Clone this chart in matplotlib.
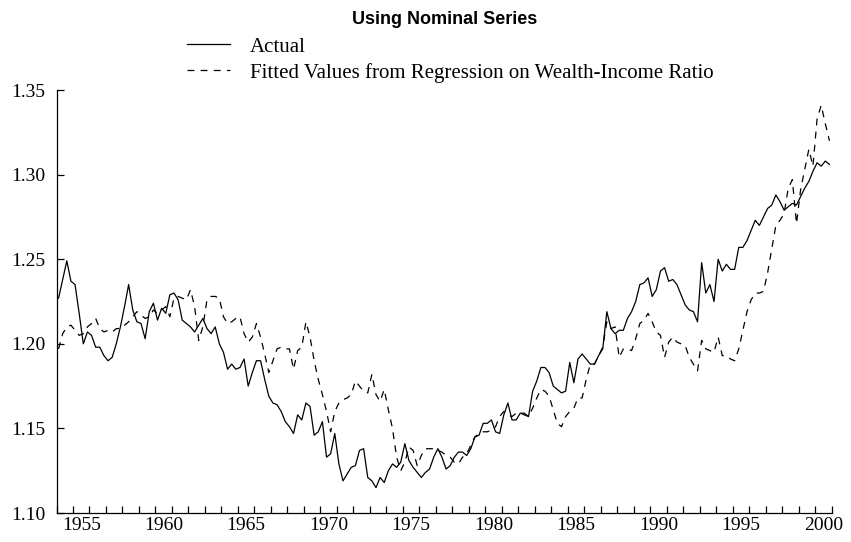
import numpy as np
import matplotlib
matplotlib.use("Agg")
import matplotlib.pyplot as plt
from matplotlib.lines import Line2D

# quarterly observations, 1954Q1 .. 2000Q4
start_year = 1954
n_quarters = 188
quarters = start_year + 0.125 + np.arange(n_quarters) / 4.0

actual = [
    1.227, 1.238, 1.249, 1.237, 1.235, 1.218, 1.200, 1.207,
    1.205, 1.198, 1.198, 1.193, 1.190, 1.192, 1.200, 1.210,
    1.222, 1.235, 1.220, 1.213, 1.212, 1.203, 1.219, 1.224,
    1.214, 1.221, 1.218, 1.229, 1.230, 1.226, 1.214, 1.212,
    1.210, 1.207, 1.211, 1.215, 1.209, 1.206, 1.210, 1.200,
    1.195, 1.185, 1.188, 1.185, 1.186, 1.191, 1.175, 1.183,
    1.190, 1.190, 1.179, 1.169, 1.165, 1.164, 1.160, 1.154,
    1.151, 1.147, 1.158, 1.155, 1.165, 1.163, 1.146, 1.148,
    1.154, 1.133, 1.135, 1.147, 1.129, 1.119, 1.123, 1.127,
    1.128, 1.137, 1.138, 1.121, 1.119, 1.115, 1.121, 1.118,
    1.125, 1.129, 1.127, 1.130, 1.141, 1.131, 1.127, 1.124,
    1.121, 1.124, 1.126, 1.133, 1.138, 1.133, 1.126, 1.128,
    1.133, 1.136, 1.136, 1.134, 1.138, 1.145, 1.146, 1.153,
    1.153, 1.155, 1.148, 1.147, 1.158, 1.165, 1.155, 1.155,
    1.159, 1.159, 1.157, 1.172, 1.178, 1.186, 1.186, 1.183,
    1.175, 1.173, 1.171, 1.172, 1.189, 1.177, 1.191, 1.194,
    1.191, 1.188, 1.188, 1.193, 1.197, 1.219, 1.209, 1.206,
    1.208, 1.208, 1.215, 1.219, 1.225, 1.235, 1.236, 1.239,
    1.228, 1.232, 1.243, 1.245, 1.237, 1.238, 1.235, 1.229,
    1.223, 1.220, 1.219, 1.213, 1.248, 1.230, 1.235, 1.225,
    1.250, 1.243, 1.247, 1.244, 1.244, 1.257, 1.257, 1.261,
    1.267, 1.273, 1.270, 1.275, 1.280, 1.282, 1.288, 1.284,
    1.279, 1.281, 1.283, 1.282, 1.287, 1.292, 1.296, 1.302,
    1.307, 1.305, 1.308, 1.306,
]

fitted = [
    1.197, 1.206, 1.210, 1.211, 1.208, 1.205, 1.206, 1.210,
    1.212, 1.215, 1.209, 1.207, 1.208, 1.207, 1.209, 1.209,
    1.211, 1.213, 1.216, 1.219, 1.217, 1.215, 1.216, 1.220,
    1.218, 1.220, 1.222, 1.216, 1.227, 1.228, 1.227, 1.226,
    1.232, 1.222, 1.202, 1.210, 1.226, 1.228, 1.228, 1.227,
    1.216, 1.212, 1.213, 1.215, 1.216, 1.206, 1.201, 1.204,
    1.212, 1.204, 1.194, 1.183, 1.190, 1.197, 1.198, 1.197,
    1.197, 1.185, 1.196, 1.198, 1.213, 1.204, 1.190, 1.179,
    1.170, 1.160, 1.148, 1.160, 1.165, 1.167, 1.168, 1.170,
    1.178, 1.175, 1.172, 1.171, 1.182, 1.170, 1.166, 1.173,
    1.161, 1.150, 1.133, 1.125, 1.130, 1.139, 1.137, 1.128,
    1.134, 1.138, 1.138, 1.138, 1.137, 1.136, 1.134, 1.133,
    1.130, 1.129, 1.133, 1.135, 1.140, 1.145, 1.147, 1.148,
    1.148, 1.149, 1.151, 1.157, 1.160, 1.158, 1.157, 1.159,
    1.159, 1.158, 1.157, 1.162, 1.168, 1.173, 1.172, 1.169,
    1.161, 1.153, 1.151, 1.157, 1.160, 1.162, 1.168, 1.168,
    1.179, 1.188, 1.188, 1.193, 1.198, 1.213, 1.209, 1.210,
    1.192, 1.197, 1.197, 1.196, 1.203, 1.212, 1.214, 1.218,
    1.213, 1.207, 1.205, 1.192, 1.201, 1.204, 1.201, 1.200,
    1.199, 1.192, 1.188, 1.184, 1.202, 1.197, 1.196, 1.195,
    1.204, 1.193, 1.193, 1.191, 1.190, 1.197, 1.208, 1.219,
    1.226, 1.230, 1.230, 1.231, 1.242, 1.256, 1.270, 1.273,
    1.277, 1.292, 1.297, 1.271, 1.291, 1.303, 1.315, 1.305,
    1.333, 1.341, 1.330, 1.320,
]

year_ticks = np.arange(1954, 2002)
label_years = np.arange(1955, 2001, 5)
y_ticks = [1.10, 1.15, 1.20, 1.25, 1.30, 1.35]

serif = ["Liberation Serif", "DejaVu Serif"]
dash = (5.5, 5.0)

fig = plt.figure(figsize=(8.51, 5.42), dpi=100)
ax = fig.add_axes([0.0664, 0.0535, 0.9107, 0.7804])

ax.plot(quarters, actual, color="black", lw=0.9)
ax.plot(quarters, fitted, color="black", lw=0.9, dashes=dash)

ax.set_xlim(1954, 2001)
ax.set_ylim(1.10, 1.35)

ax.spines["top"].set_visible(False)
ax.spines["right"].set_visible(False)
for s in ("left", "bottom"):
    ax.spines[s].set_linewidth(0.9)

# year boundary ticks, labels centred on the year
ax.set_xticks(year_ticks)
ax.set_xticklabels([])
ax.set_xticks(label_years + 0.5, minor=True)
ax.set_xticklabels([str(y) for y in label_years], minor=True, family=serif, fontsize=14)
ax.tick_params(axis="x", which="major", direction="in", length=5, width=0.9)
ax.tick_params(axis="x", which="minor", length=0, pad=3)

ax.set_yticks(y_ticks)
ax.set_yticklabels(["%.2f" % v for v in y_ticks], family=serif, fontsize=14)
ax.tick_params(axis="y", direction="in", length=5, width=0.9, pad=8)

fig.text(0.523, 0.964, "Using Nominal Series", ha="center", va="center",
         fontsize=13, fontweight="bold", family=["Liberation Sans", "DejaVu Sans"])

handles = [Line2D([], [], color="black", lw=0.9),
           Line2D([], [], color="black", lw=0.9, dashes=dash)]
fig.legend(handles, ["Actual", "Fitted Values from Regression on Wealth-Income Ratio"],
           loc="upper left", bbox_to_anchor=(187 / 851, 1 - 37 / 542),
           frameon=False, prop={"family": serif, "size": 15},
           handlelength=2.07, handletextpad=0.96, labelspacing=0.3,
           borderpad=0, borderaxespad=0)

fig.savefig("out.png", dpi=100)
